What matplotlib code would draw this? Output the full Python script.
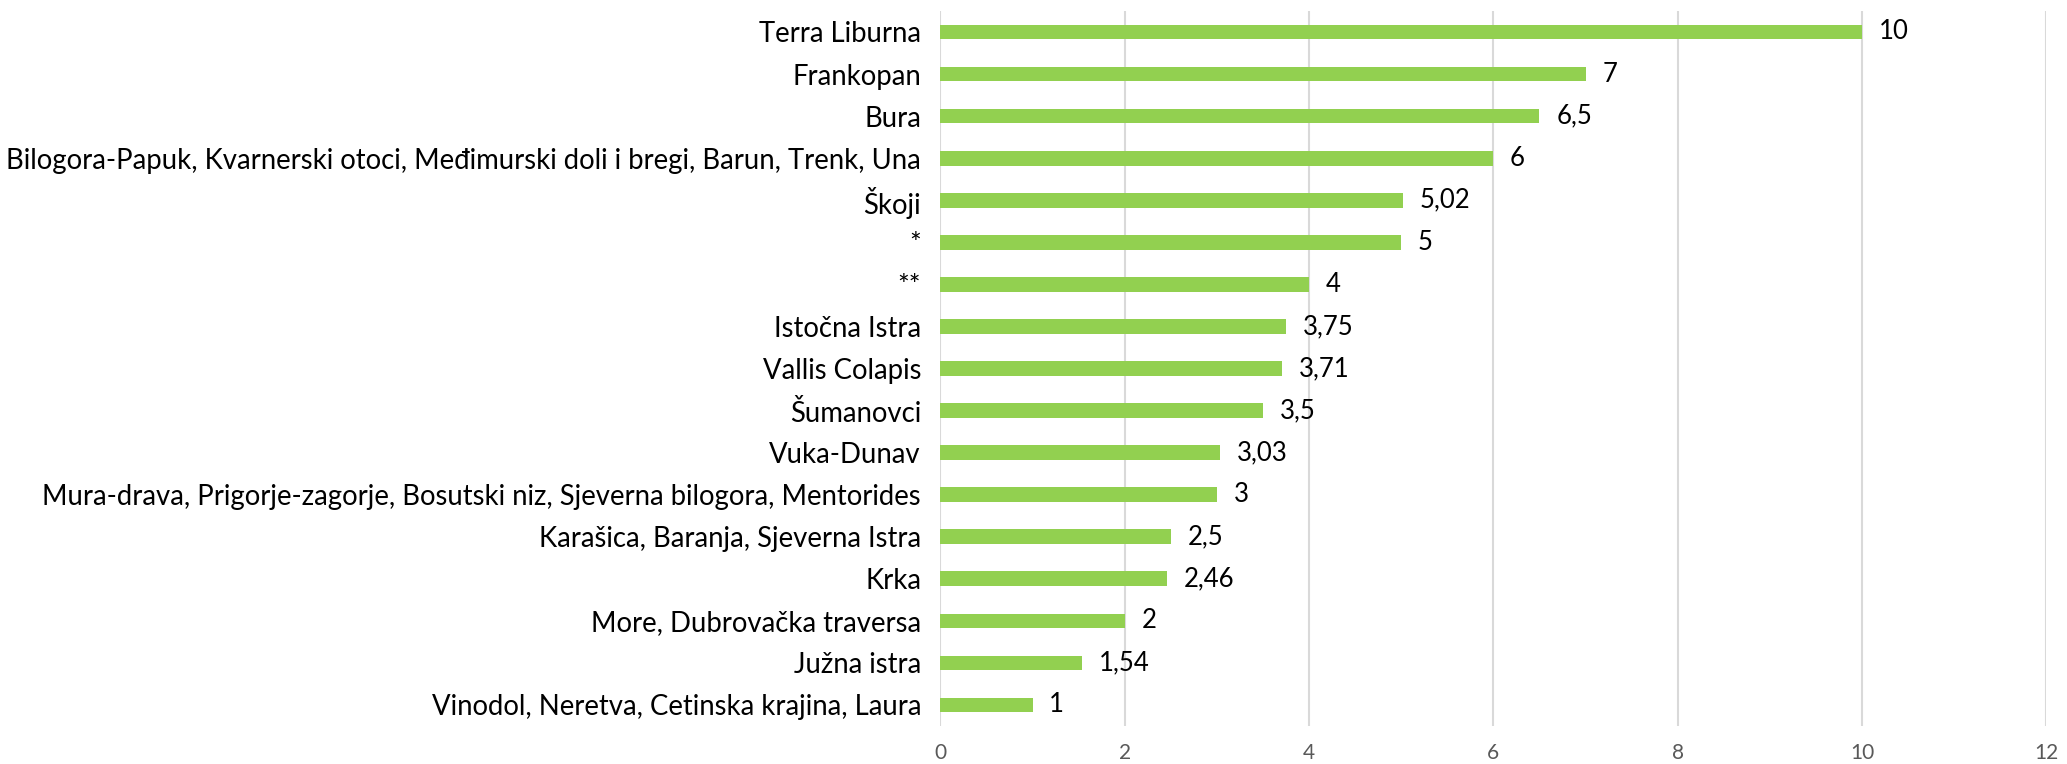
import matplotlib
matplotlib.use("Agg")
import matplotlib.pyplot as plt

categories = ["Terra Liburna", "Frankopan", "Bura",
              "Bilogora-Papuk, Kvarnerski otoci, Međimurski doli i bregi, Barun, Trenk, Una",
              "Škoji", "*", "**", "Istočna Istra", "Vallis Colapis", "Šumanovci",
              "Vuka-Dunav",
              "Mura-drava, Prigorje-zagorje, Bosutski niz, Sjeverna bilogora, Mentorides",
              "Karašica, Baranja, Sjeverna Istra", "Krka", "More, Dubrovačka traversa",
              "Južna istra", "Vinodol, Neretva, Cetinska krajina, Laura"]
values = [10, 7, 6.5, 6, 5.02, 5, 4, 3.75, 3.71, 3.5, 3.03, 3, 2.5, 2.46, 2, 1.54, 1]
value_labels = ["10", "7", "6,5", "6", "5,02", "5", "4", "3,75", "3,71", "3,5",
                "3,03", "3", "2,5", "2,46", "2", "1,54", "1"]
xticks = [0, 2, 4, 6, 8, 10, 12]

plt.rcParams['font.family'] = ['Lato', 'DejaVu Sans']

fig = plt.figure(figsize=(20.67, 7.64), dpi=100)
ax = fig.add_axes([0.455, 0.0497, 0.535, 0.936])

ypos = list(range(len(categories)))
ax.barh(ypos, values, height=0.35, color='#92D050', zorder=3)
for y, v, lab in zip(ypos, values, value_labels):
    ax.annotate(lab, (v, y), xytext=(12, 0), textcoords='offset points',
                va='center', ha='left', fontsize=18.5, color='black')

ax.set_yticks(ypos)
ax.set_yticklabels(categories, fontsize=19.8)
ax.set_ylim(len(categories) - 0.5, -0.5)
ax.set_xlim(0, 12)
ax.set_xticks(xticks)
ax.set_xticklabels([str(t) for t in xticks], fontsize=15, color='#595959')
ax.tick_params(axis='y', length=0, pad=14)
ax.tick_params(axis='x', length=0, pad=12)
ax.xaxis.grid(True, color='#D9D9D9', linewidth=1.5, zorder=0)
for s in ax.spines.values():
    s.set_visible(False)

fig.savefig("out.png", dpi=100)
